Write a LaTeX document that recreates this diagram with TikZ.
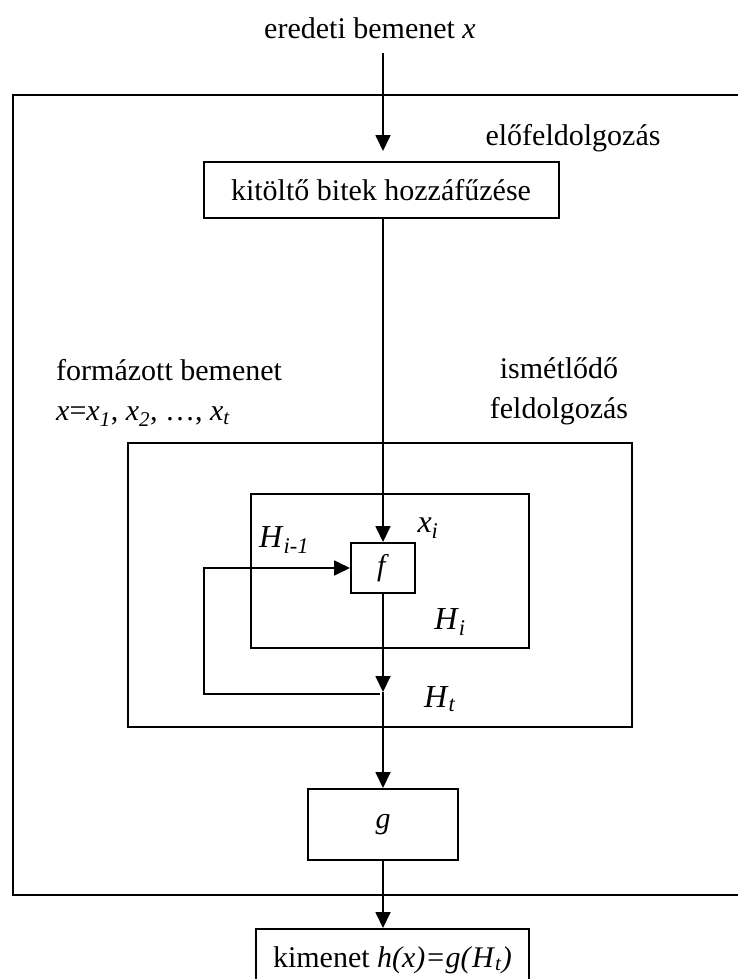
\documentclass[tikz,border=0pt]{standalone}
\usepackage{fontspec}
\setmainfont{Liberation Serif}
\usetikzlibrary{arrows.meta}
\newcommand{\hasharrowstyle}{-{Triangle[length=16pt,width=15pt]}}
\newcommand{\lblsub}[2]{\textit{#1}\textsubscript{\textit{#2}}}

\begin{document}
\begin{tikzpicture}[
    x=1pt, y=-1pt,
    font=\fontsize{30}{40}\selectfont,
    sig/.style={\hasharrowstyle, line width=1.8pt},
    frame/.style={draw, line width=2pt, inner sep=0pt},
    lbl/.style={inner sep=0pt}
]
  \path[use as bounding box] (0,0) rectangle (738,979);
  \clip (0,0) rectangle (738,979);

  \node[frame, minimum width=760pt, minimum height=800pt] (prebox) at (393,495) {};
  \node[frame, minimum width=504pt, minimum height=284pt] (loopbox) at (380,585) {};
  \node[frame, minimum width=278pt, minimum height=154pt] (roundbox) at (390,571) {};

  \node[lbl] (title) at (370,28) {eredeti bemenet \textit{x}};
  \node[frame, minimum width=355pt, minimum height=56pt] (pad) at (381,190) {kitöltő bitek hozzáfűzése};
  \node[frame, minimum width=64pt, minimum height=50pt] (fbox) at (383,568) {\textit{f}};
  \node[frame, minimum width=150pt, minimum height=71pt] (gbox) at (383,824.5) {\textit{g}};
  \node[frame, minimum width=273pt, minimum height=62pt] (outbox) at (392.5,960)
    {kimenet \textit{h(x)=g(}\lblsub{H}{t}\textit{)}};

  \node[lbl] (prelbl) at (573,138) {előfeldolgozás};
  \node[lbl, align=left, anchor=west] (fmtlbl) at (56,393)
    {formázott bemenet\\\textit{x}=\lblsub{x}{1}, \lblsub{x}{2}, …, \lblsub{x}{t}};
  \node[lbl, align=center] (looplbl) at (559,391) {ismétlődő\\feldolgozás};

  \node[lbl, font=\fontsize{32}{40}\selectfont] (xilbl) at (428,528) {\lblsub{x}{i}};
  \node[lbl, font=\fontsize{32}{40}\selectfont] (hprev) at (284,540) {\lblsub{H}{i-1}};
  \node[lbl, font=\fontsize{32}{40}\selectfont] (hcur) at (450,622) {\lblsub{H}{i}};
  \node[lbl, font=\fontsize{32}{40}\selectfont] (hlast) at (440,699) {\lblsub{H}{t}};

  \coordinate (src) at (383,53);
  \coordinate (join) at (383,692);
  \coordinate (turn) at (204,694);

  \draw[sig, shorten >=10pt] (src) -- (src |- pad.north);
  \draw[sig] (pad.south -| fbox.north) -- (fbox.north);
  \draw[sig] (fbox.south) -- (join);
  \draw[sig] ([shift={(-3,2)}]join) -- (turn) |- (fbox.west);
  \draw[sig] (join) -- (gbox.north);
  \draw[sig] (gbox.south) -- (gbox.south |- outbox.north);
\end{tikzpicture}
\end{document}
